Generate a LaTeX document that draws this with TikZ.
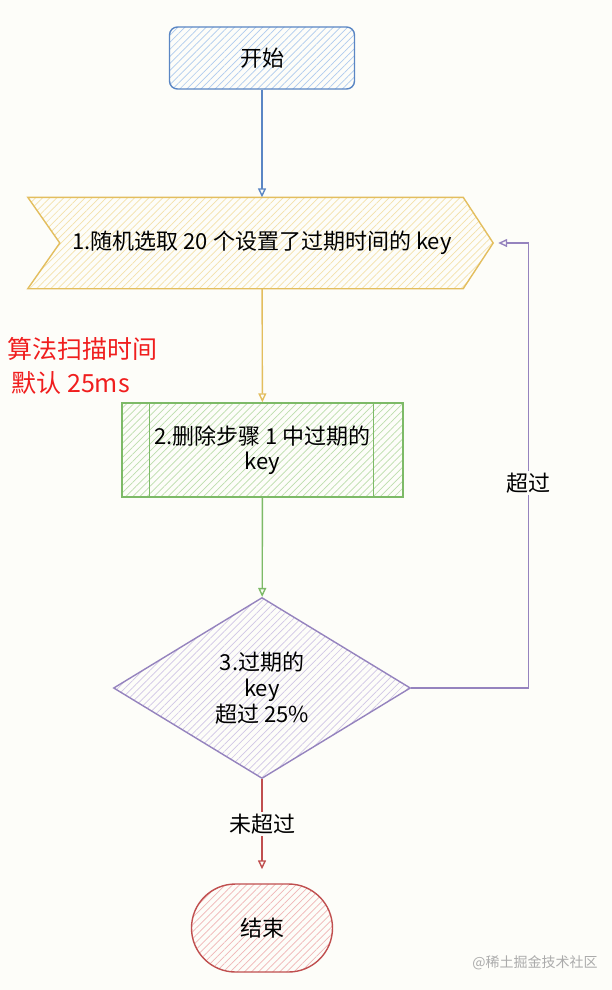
\documentclass[tikz,border=0pt]{standalone}
\usepackage{fontspec}
\setmainfont{Noto Sans CJK SC}
\usepackage{tikz}
\usetikzlibrary{positioning,arrows.meta,shapes.geometric,calc,backgrounds,patterns.meta}
\definecolor{paper}{HTML}{FDFDF9}
\definecolor{bluedraw}{HTML}{5A86C4}
\definecolor{bluehatch}{HTML}{AFCBEE}
\definecolor{yeldraw}{HTML}{E3BE5E}
\definecolor{yelhatch}{HTML}{F4E1AA}
\definecolor{grndraw}{HTML}{7DBA67}
\definecolor{grnhatch}{HTML}{BCDDAC}
\definecolor{purdraw}{HTML}{9583BE}
\definecolor{purhatch}{HTML}{D0C6E6}
\definecolor{reddraw}{HTML}{C04F4F}
\definecolor{redhatch}{HTML}{F0B6B6}
\definecolor{alertred}{HTML}{F01E1E}
\definecolor{wmgray}{HTML}{ABABAB}
\tikzset{
  hatch/.style   ={pattern={Lines[angle=45,distance=5pt,line width=0.7pt]}, pattern color=#1},
  txt/.style     ={font=\fontsize{22}{25}\selectfont, align=center, text=black},
  term/.style    ={txt, draw=#1draw, hatch=#1hatch, line width=1.4pt},
  proc/.style    ={txt, rectangle, draw=grndraw, hatch=grnhatch, line width=1.4pt,
                   minimum width=281, minimum height=94},
  cond/.style    ={diamond, aspect=1.64, inner sep=0pt, draw=purdraw, hatch=purhatch, line width=1.4pt,
                   minimum width=297, minimum height=181, font=\fontsize{22}{26}\selectfont, align=center, text=black},
  flowarr/.style ={-{Triangle[open,length=9pt,width=8pt]}, line width=1.4pt},
  lbl/.style     ={fill=paper, inner sep=2pt, text=black, font=\fontsize{22}{25}\selectfont},
}
\begin{document}
\begin{tikzpicture}[x=1pt,y=-1pt]
\useasboundingbox (0,0) rectangle (612,990);
\begin{scope}[on background layer]
  \fill[paper] (0,0) rectangle (612,990);
\end{scope}

% ---- nodes
\node[term=blue, rounded corners=8pt, minimum width=185, minimum height=62] (start) at (262,58) {开始};
\node[txt, minimum width=404, minimum height=91] (pick) at (262,243) {1.随机选取 20 个设置了过期时间的 key};
\node[proc] (del) at (262.5,450) {2.删除步骤 1 中过期的\\key};
\node[cond] (chk) at (262,688) {3.过期的\\key\\超过 25\%};
\node[term=red, rounded corners=44pt, minimum width=141, minimum height=88] (stop) at (262,928) {结束};
\node[anchor=west, align=left, text=alertred, font=\fontsize{25}{34}\selectfont] (scan) at (4,366) {算法扫描时间\\\hspace*{4pt}默认 25ms};
\node[text=wmgray, font=\fontsize{14}{16}\selectfont] (wm) at (535,963) {@稀土掘金技术社区};

% ---- chevron round step 1, side bars of step 2
\begin{scope}[on background layer]
  \draw[yeldraw, line width=1.4pt, hatch=yelhatch]
    ([xshift=-32]pick.north west) -- ([xshift=-1]pick.north east) -- ([xshift=29]pick.east)
    -- ([xshift=-1]pick.south east) -- ([xshift=-32]pick.south west) -- (pick.west) -- cycle;
\end{scope}
\draw[grndraw, line width=1.2pt] ([xshift=28]del.north west) -- ([xshift=28]del.south west);
\draw[grndraw, line width=1.2pt] ([xshift=-30]del.north east) -- ([xshift=-30]del.south east);

% ---- connectors
\coordinate (tip) at ([xshift=34]pick.east);
\coordinate (endin) at ([yshift=14]stop.north);
\draw[flowarr, bluedraw] (start) -- (pick);
\draw[flowarr, yeldraw] (pick) -- (del);
\draw[flowarr, grndraw] (del) -- (chk);
\draw[flowarr, reddraw] (chk) -- node[lbl] {未超过} (endin);
\draw[flowarr, purdraw] (chk.east) -- ++(117,0) |- node[lbl, pos=0.23] {超过} (tip);
\end{tikzpicture}
\end{document}
